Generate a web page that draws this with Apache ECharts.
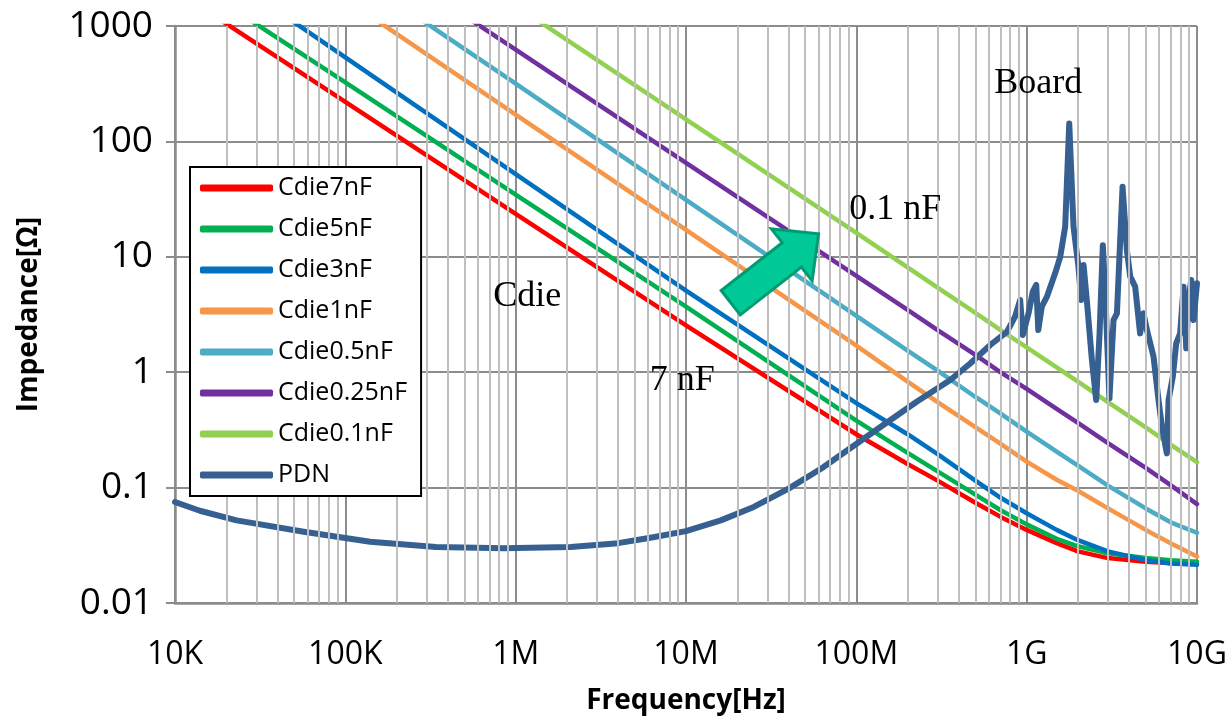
<!DOCTYPE html>
<html>
<head>
<meta charset="utf-8">
<script src="https://cdn.jsdelivr.net/npm/echarts@6/dist/echarts.min.js"></script>
<style>
  html, body { margin: 0; padding: 0; background: #ffffff; }
  #chart { width: 1230px; height: 725px; }
</style>
</head>
<body>
<div id="chart"></div>
<script>
// Impedance vs frequency: on-die capacitance sweep against the PDN profile.
const SANS = "'Open Sans', 'Noto Sans', sans-serif";
const SERIF = "'Liberation Serif', 'DejaVu Serif', serif";

// Axis tick labels (one per decade)
const xTickLabels = ['10K', '100K', '1M', '10M', '100M', '1G', '10G'];
const yTickLabels = ['0.01', '0.1', '1', '10', '100', '1000'];

// Legend / series names and colours
const seriesNames = ['Cdie7nF', 'Cdie5nF', 'Cdie3nF', 'Cdie1nF', 'Cdie0.5nF', 'Cdie0.25nF', 'Cdie0.1nF', 'PDN'];
const seriesColors = ['#ff0000', '#00b050', '#0070c0', '#f79646', '#4bacc6', '#7030a0', '#92d050', '#366092'];

// Die-capacitance impedance curves [Ω] sampled at these frequencies [Hz]
const cdieFreq  = [1e4, 1e5, 1e6, 1e7, 1e8, 2e8, 3e8, 5e8, 7e8, 1e9, 1.5e9, 2e9, 3e9, 5e9, 7e9, 1e10];
const cdie7nF   = [2050, 220, 23.6, 2.55, 0.29, 0.16, 0.115, 0.074, 0.056, 0.043, 0.033, 0.028, 0.0245, 0.0228, 0.0222, 0.022];
const cdie5nF   = [3000, 325, 34.5, 3.7, 0.38, 0.20, 0.138, 0.087, 0.064, 0.048, 0.036, 0.031, 0.027, 0.0245, 0.0235, 0.0228];
const cdie3nF   = [5500, 535, 52, 5.1, 0.54, 0.29, 0.195, 0.115, 0.082, 0.060, 0.043, 0.035, 0.028, 0.0235, 0.022, 0.0214];
const cdie1nF   = [17100, 1710, 171, 17.1, 1.7, 0.83, 0.55, 0.335, 0.24, 0.168, 0.117, 0.094, 0.066, 0.043, 0.033, 0.0253];
const cdie05nF  = [31600, 3160, 317, 31.2, 3.08, 1.54, 1.03, 0.61, 0.44, 0.305, 0.205, 0.155, 0.104, 0.066, 0.050, 0.0406];
const cdie025nF = [59600, 5960, 624, 65.3, 6.84, 3.47, 2.32, 1.41, 1.0, 0.716, 0.48, 0.363, 0.243, 0.148, 0.105, 0.072];
const cdie01nF  = [150000, 15100, 1500, 155, 16.1, 8.1, 5.4, 3.26, 2.33, 1.64, 1.1, 0.83, 0.55, 0.333, 0.236, 0.166];

// PDN impedance profile [Ω] at these frequencies [Hz]
const pdnFreq = [
  1e4, 1.4e4, 2.3e4, 5.7e4, 1.4e5, 3.4e5, 8.5e5, 2.1e6, 4e6, 6.3e6,
  1e7, 1.6e7, 2.5e7, 4e7, 6.3e7, 9.2e7, 1.44e8, 2.26e8, 3.56e8, 4.66e8,
  6.11e8, 7.66e8, 8.55e8, 9.16e8, 9.49e8, 1.026e9, 1.086e9, 1.138e9, 1.17e9, 1.227e9,
  1.315e9, 1.469e9, 1.574e9, 1.683e9, 1.778e9, 1.884e9, 2.014e9, 2.089e9, 2.158e9, 2.254e9,
  2.415e9, 2.559e9, 2.679e9, 2.8e9, 2.904e9, 3.062e9, 3.236e9, 3.388e9, 3.656e9, 3.873e9,
  4.055e9, 4.335e9, 4.634e9, 4.853e9, 5.082e9, 5.559e9, 5.943e9, 6.223e9, 6.653e9, 6.808e9,
  7.211e9, 7.551e9, 7.962e9, 8.337e9, 8.65e9, 8.913e9, 9.247e9, 9.55e9, 1e10
];
const pdnZ = [
  0.075, 0.063, 0.052, 0.0415, 0.034, 0.0305, 0.0298, 0.0305, 0.033, 0.037,
  0.042, 0.052, 0.068, 0.098, 0.148, 0.219, 0.349, 0.555, 0.855, 1.19,
  1.72, 2.24, 3.03, 4.23, 2.10, 3.24, 4.99, 5.70, 2.32, 3.70,
  4.51, 7.19, 10.0, 18.2, 143, 18.2, 8.2, 4.23, 8.49, 4.23,
  1.28, 0.574, 2.17, 12.6, 4.23, 0.594, 2.83, 3.24, 40.5, 11.5,
  6.73, 5.51, 2.17, 3.24, 2.32, 1.36, 0.574, 0.337, 0.198, 0.574,
  0.914, 1.78, 2.17, 5.51, 1.61, 4.23, 6.3, 2.83, 5.9
];

// Minor vertical grid positions (2..9 within each decade)
const minorGridFreq = [];
for (let d = 4; d < 10; d++) {
  for (let m = 2; m <= 9; m++) minorGridFreq.push(m * Math.pow(10, d));
}

// Text annotations anchored in data space [Hz, Ω]
const annotations = [
  { text: 'Board',  f: 1.17e9, z: 320 },
  { text: '0.1 nF', f: 1.69e8, z: 25.5 },
  { text: 'Cdie',   f: 1.17e6, z: 4.5 },
  { text: '7 nF',   f: 9.5e6,  z: 0.84 }
];
// Arrow (tail, tip) in data space [Hz, Ω]
const arrowTail = [1.83e7, 4.0];
const arrowTip  = [6.0e7, 15.8];

const cdieSets = [cdie7nF, cdie5nF, cdie3nF, cdie1nF, cdie05nF, cdie025nF, cdie01nF];

const chart = echarts.init(document.getElementById('chart'), null, { renderer: 'canvas' });

const gridGray = '#8c8c8c';
const minorGray = '#bfbfbf';

const series = [];
// minor vertical grid lines
series.push({
  name: '__grid',
  type: 'line',
  data: [],
  silent: true,
  z: 1,
  markLine: {
    silent: true,
    symbol: ['none', 'none'],
    label: { show: false },
    animation: false,
    lineStyle: { color: minorGray, width: 2, type: 'solid' },
    emphasis: { disabled: true },
    data: minorGridFreq.map(f => ({ xAxis: f }))
  }
});
cdieSets.forEach((vals, i) => {
  series.push({
    name: seriesNames[i],
    type: 'line',
    color: seriesColors[i],
    data: cdieFreq.map((f, k) => [f, vals[k]]),
    showSymbol: false,
    clip: true,
    z: 3,
    lineStyle: { width: 4.5, color: seriesColors[i], cap: 'round', join: 'round' }
  });
});
series.push({
  name: seriesNames[7],
  type: 'line',
  color: seriesColors[7],
  data: pdnFreq.map((f, k) => [f, pdnZ[k]]),
  showSymbol: false,
  clip: true,
  z: 4,
  lineStyle: { width: 6, color: seriesColors[7], cap: 'round', join: 'round' }
});

chart.setOption({
  animation: false,
  backgroundColor: '#ffffff',
  grid: { left: 175, right: 33, top: 26, bottom: 122, containLabel: false },
  legend: {
    data: seriesNames,
    orient: 'vertical',
    left: 190,
    top: 167,
    padding: [8, 14, 8, 10],
    itemGap: 15,
    itemWidth: 73,
    itemHeight: 7,
    icon: 'roundRect',
    selectedMode: false,
    backgroundColor: '#ffffff',
    borderColor: '#000000',
    borderWidth: 2,
    borderRadius: 0,
    z: 10,
    textStyle: { fontFamily: SANS, fontSize: 25, color: '#000000', lineHeight: 26 }
  },
  xAxis: {
    type: 'log',
    logBase: 10,
    min: 1e4,
    max: 1e10,
    name: 'Frequency[Hz]',
    nameLocation: 'middle',
    nameGap: 84,
    nameTextStyle: { fontFamily: SANS, fontSize: 28, fontWeight: 'bold', color: '#000000' },
    axisLine: { show: true, onZero: false, lineStyle: { color: gridGray, width: 2.5 } },
    axisTick: { show: false },
    splitLine: { show: true, lineStyle: { color: gridGray, width: 2 } },
    axisLabel: {
      fontFamily: SANS, fontSize: 32, color: '#000000', margin: 36,
      formatter: v => xTickLabels[Math.round(Math.log10(v)) - 4]
    }
  },
  yAxis: {
    type: 'log',
    logBase: 10,
    min: 0.01,
    max: 1000,
    name: 'Impedance[Ω]',
    nameLocation: 'middle',
    nameRotate: 90,
    nameGap: 132,
    nameTextStyle: { fontFamily: SANS, fontSize: 28, fontWeight: 'bold', color: '#000000' },
    axisLine: { show: true, onZero: false, lineStyle: { color: gridGray, width: 2.5 } },
    axisTick: { show: true, length: 9, inside: false, lineStyle: { color: gridGray, width: 2 } },
    splitLine: { show: true, lineStyle: { color: gridGray, width: 2 } },
    axisLabel: {
      fontFamily: SANS, fontSize: 37, color: '#000000', margin: 22,
      formatter: v => yTickLabels[Math.round(Math.log10(v)) + 2]
    }
  },
  series: series
});

// Annotations placed through the chart's own coordinate conversion
function px(p) { return chart.convertToPixel({ gridIndex: 0 }, p); }

const graphics = [];
const T = px(arrowTail), P = px(arrowTip);
const dx = P[0] - T[0], dy = P[1] - T[1];
const L = Math.hypot(dx, dy);
const u = [dx / L, dy / L], n = [-u[1], u[0]];
const headLen = 34, headW = 66, shaftW = 31;
const B = [P[0] - u[0] * headLen, P[1] - u[1] * headLen];
const off = (p, k) => [p[0] + n[0] * k, p[1] + n[1] * k];
graphics.push({
  type: 'polygon',
  z: 20,
  shape: { points: [off(T, shaftW / 2), off(B, shaftW / 2), off(B, headW / 2), P, off(B, -headW / 2), off(B, -shaftW / 2), off(T, -shaftW / 2)] },
  style: { fill: '#00c896', stroke: '#009b72', lineWidth: 3, lineJoin: 'miter' }
});
annotations.forEach(a => {
  const p = px([a.f, a.z]);
  graphics.push({
    type: 'text',
    z: 21,
    x: p[0], y: p[1],
    style: { text: a.text, font: `36px ${SERIF}`, fill: '#000000', textAlign: 'center', textVerticalAlign: 'middle' }
  });
});
chart.setOption({ graphic: graphics });
</script>
</body>
</html>
